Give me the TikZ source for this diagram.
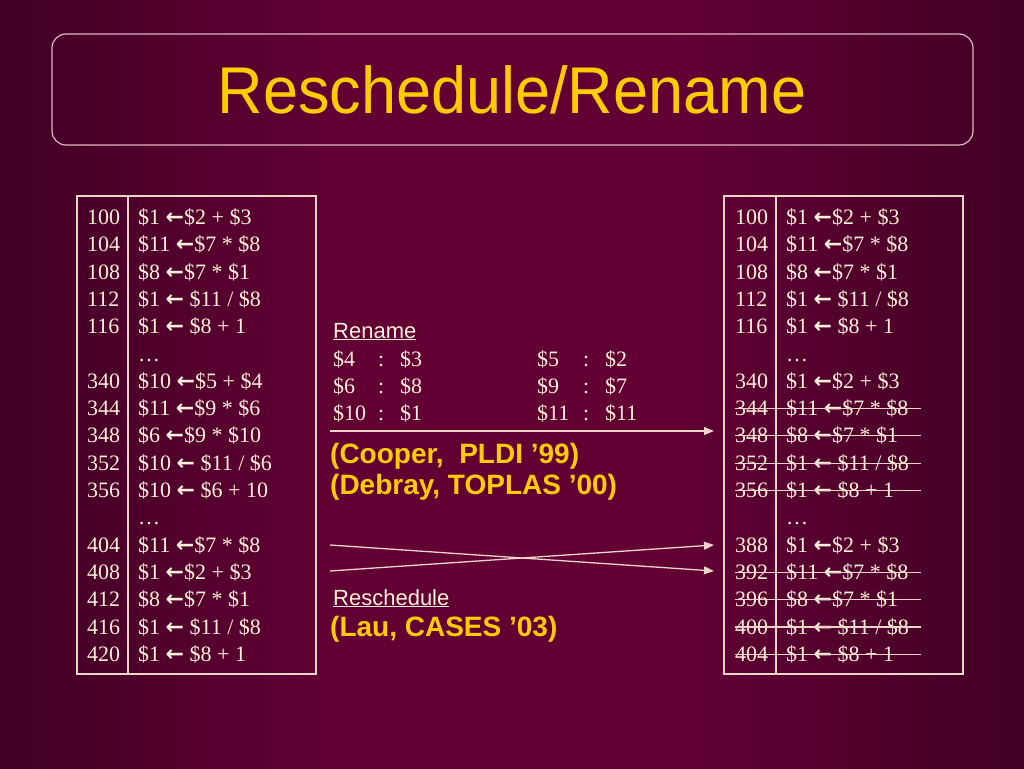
\documentclass[tikz,border=0pt]{standalone}
\usepackage{fontspec}
\setmainfont{Liberation Serif}
\setsansfont{Liberation Sans}
\newfontfamily\arrowfont{DejaVu Sans}
\usetikzlibrary{arrows.meta}

\definecolor{bgdark}{RGB}{36,0,22}
\definecolor{bgmid}{RGB}{98,0,52}
\definecolor{cream}{RGB}{255,240,215}
\definecolor{gold}{RGB}{255,204,0}
\definecolor{rulecol}{RGB}{235,212,200}
\definecolor{framecol}{RGB}{225,180,195}
\pgfdeclarehorizontalshading{slidebg}{100bp}{color(0bp)=(bgdark); color(10bp)=(bgdark);
  color(42bp)=(bgmid); color(58bp)=(bgmid); color(90bp)=(bgdark); color(100bp)=(bgdark)}

\newcommand\larr{{\arrowfont\bfseries ←}}

\tikzset{
  addr/.style={anchor=base west, inner sep=0pt, text=cream, font=\fontsize{22}{26}\selectfont},
  code/.style={addr},
  label/.style={anchor=base west, inner sep=0pt, text=cream, font=\sffamily\fontsize{22}{26}\selectfont},
  cite/.style={anchor=base west, inner sep=0pt, text=gold, font=\sffamily\bfseries\fontsize{28}{32}\selectfont},
  tbl/.style={draw=rulecol, line width=1.1pt},
  strike/.style={draw=rulecol, line width=1.1pt},
  link/.style={draw=rulecol, line width=1.3pt, ->}
}

\begin{document}
\begin{tikzpicture}[x=1pt, y=-1pt, >={Triangle[length=10pt,width=8pt]}]
\useasboundingbox (0,0) rectangle (1024,768);
\shade[shading=slidebg] (0,0) rectangle (1024,768);

% title
\draw[framecol, line width=1.2pt, rounded corners=14pt] (52,34) rectangle (973,145);
\node[anchor=base, inner sep=0pt, text=gold, font=\sffamily\fontsize{63}{70}\selectfont, yscale=1.05] (title) at (512,113) {Reschedule/Rename};

% left listing
\draw[tbl] (77,196) rectangle (316,674);
\draw[tbl] (128,196) -- (128,674);
\foreach \a/\c [count=\i from 0] in {100/{\$1 \larr\$2 + \$3}, 104/{\$11 \larr\$7 * \$8}, 108/{\$8 \larr\$7 * \$1},
    112/{\$1 \larr{} \$11 / \$8}, 116/{\$1 \larr{} \$8 + 1}, {}/{…},
    340/{\$10 \larr\$5 + \$4}, 344/{\$11 \larr\$9 * \$6}, 348/{\$6 \larr\$9 * \$10},
    352/{\$10 \larr{} \$11 / \$6}, 356/{\$10 \larr{} \$6 + 10}, {}/{…},
    404/{\$11 \larr\$7 * \$8}, 408/{\$1 \larr\$2 + \$3}, 412/{\$8 \larr\$7 * \$1},
    416/{\$1 \larr{} \$11 / \$8}, 420/{\$1 \larr{} \$8 + 1}}
  { \node[addr] (la\i) at (87,224.5+27.3*\i) {\a};
    \node[code] (lc\i) at (138,224.5+27.3*\i) {\c};
  }

% right listing
\draw[tbl] (724,196) rectangle (963,674);
\draw[tbl] (776,196) -- (776,674);
\foreach \a/\c [count=\i from 0] in {100/{\$1 \larr\$2 + \$3}, 104/{\$11 \larr\$7 * \$8}, 108/{\$8 \larr\$7 * \$1},
    112/{\$1 \larr{} \$11 / \$8}, 116/{\$1 \larr{} \$8 + 1}, {}/{…},
    340/{\$1 \larr\$2 + \$3}, 344/{\$11 \larr\$7 * \$8}, 348/{\$8 \larr\$7 * \$1},
    352/{\$1 \larr{} \$11 / \$8}, 356/{\$1 \larr{} \$8 + 1}, {}/{…},
    388/{\$1 \larr\$2 + \$3}, 392/{\$11 \larr\$7 * \$8}, 396/{\$8 \larr\$7 * \$1},
    400/{\$1 \larr{} \$11 / \$8}, 404/{\$1 \larr{} \$8 + 1}}
  { \node[addr] (ra\i) at (735,224.5+27.3*\i) {\a};
    \node[code] (rc\i) at (786,224.5+27.3*\i) {\c};
  }
\foreach \i in {7,8,9,10,13,14,15,16}
  \draw[strike] (735,217.5+27.3*\i) -- (921,217.5+27.3*\i);

% rename map
\node[label] (rnm) at (333,338) {\underline{Rename}};
\foreach \p/\q/\r/\s [count=\i from 0] in {4/3/5/2, 6/8/9/7, 10/1/11/11}
  { \node[code] (mp\i) at (333,366+27*\i) {\$\p};
    \node[code] (mc\i) at (378,366+27*\i) {:};
    \node[code] (mq\i) at (400,366+27*\i) {\$\q};
    \node[code] (mr\i) at (537,366+27*\i) {\$\r};
    \node[code] (md\i) at (583,366+27*\i) {:};
    \node[code] (ms\i) at (605,366+27*\i) {\$\s};
  }
\coordinate (rnA) at (330,431);
\coordinate (rnB) at (714,431);
\draw[link] (rnA) -- (rnB);
\node[cite] (cooper) at (330,463) {(Cooper,\ \ PLDI ’99)};
\node[cite] (debray) at (330,494) {(Debray, TOPLAS ’00)};

% reschedule
\coordinate (rsA) at (330,545);
\coordinate (rsB) at (330,571);
\coordinate (rsC) at (714,545);
\coordinate (rsD) at (714,571);
\draw[link] (rsA) -- (rsD);
\draw[link] (rsB) -- (rsC);
\node[label] (rsc) at (333,605) {\underline{Reschedule}};
\node[cite] (lau) at (330,636) {(Lau, CASES ’03)};
\end{tikzpicture}
\end{document}
